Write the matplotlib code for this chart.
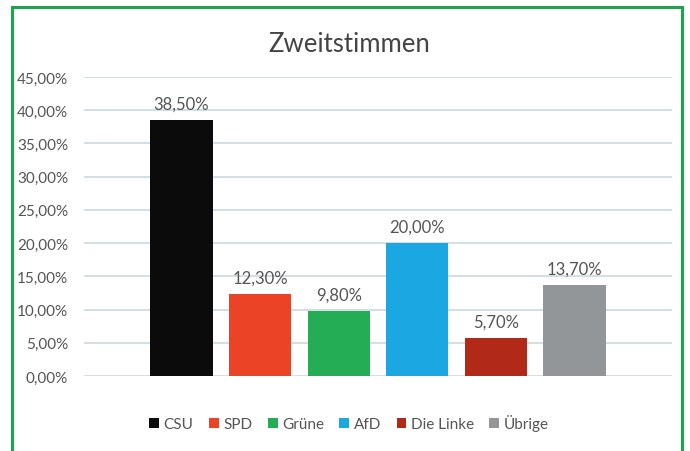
import matplotlib
matplotlib.use("Agg")
import matplotlib.pyplot as plt
from matplotlib.patches import Rectangle, Patch
from matplotlib.ticker import FuncFormatter, MultipleLocator

plt.rcParams['font.family'] = ['Lato', 'DejaVu Sans']

parties = ["CSU", "SPD", "Grüne", "AfD", "Die Linke", "Übrige"]
shares = [38.5, 12.3, 9.8, 20.0, 5.7, 13.7]
colors = ["#0b0b0b", "#ea4325", "#25ad55", "#1ba8e2", "#b02a17", "#939698"]
title = "Zweitstimmen"

TXT = "#555555"

fig = plt.figure(figsize=(6.9, 4.52), dpi=100)
fig.patch.set_facecolor("white")
ax = fig.add_axes([84/690, 1-377/452, (672-84)/690, (377-78)/452])

x = list(range(len(parties)))
vals = [v/100 for v in shares]
bars = ax.bar(x, vals, width=0.79, color=colors, zorder=3)
for xi, v in zip(x, vals):
    ax.annotate(f"{v*100:.2f}%".replace(".", ","), (xi, v), xytext=(0, 6),
                textcoords="offset points", ha="center", va="bottom",
                fontsize=12, color=TXT)

ax.set_xlim(-0.5-0.74, len(parties)-0.5+0.74)
ax.set_ylim(0, 0.45)
ax.yaxis.set_major_locator(MultipleLocator(0.05))
ax.yaxis.set_major_formatter(FuncFormatter(lambda v, p: f"{v*100:.2f}%".replace(".", ",")))
ax.tick_params(axis="y", length=0, pad=11.5, labelsize=11, labelcolor=TXT)
ax.set_xticks([])
ax.grid(axis="y", color="#c9d9e1", linewidth=1.2, zorder=0)
for s in ax.spines.values():
    s.set_visible(False)

fig.text(349/690, 1-45/452, title, ha="center", va="center", fontsize=18.5, color="#444444")

handles = [Patch(facecolor=c, edgecolor="none") for c in colors]
fig.legend(handles, parties, loc="center", bbox_to_anchor=(349/690, 1-424/452),
           ncol=len(parties), frameon=False, fontsize=11, labelcolor=TXT,
           handlelength=0.65, handleheight=0.65, handletextpad=0.3, columnspacing=1.0)

fig.patches.append(Rectangle((12/690, -0.05), (682-12)/690, 1.05-8/452, transform=fig.transFigure,
                             fill=False, edgecolor="#1ca64c", linewidth=2.2, zorder=10))

fig.savefig("out.png", dpi=100)
